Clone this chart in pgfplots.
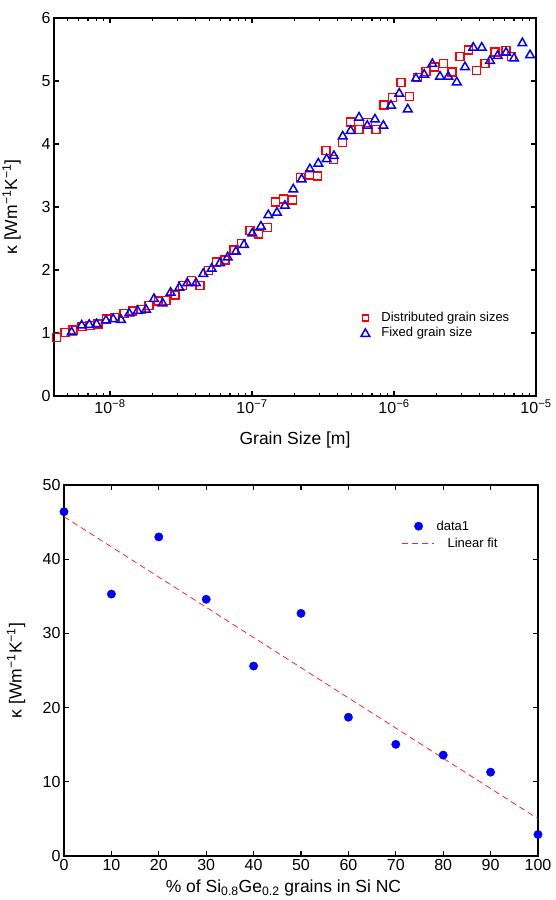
\documentclass[border=0pt]{standalone}
\usepackage{pgfplots}
\pgfplotsset{compat=1.18}
\usepackage{fontspec}
\setmainfont{Liberation Sans}
\pgfplotstableread{
L v
-8.375 0.93
-8.317 1.01
-8.261 1.05
-8.197 1.10
-8.141 1.12
-8.085 1.14
-8.023 1.22
-7.965 1.25
-7.901 1.31
-7.840 1.35
-7.782 1.37
-7.725 1.44
-7.660 1.51
-7.606 1.52
-7.542 1.60
-7.488 1.75
-7.425 1.83
-7.366 1.75
-7.308 1.99
-7.249 2.13
-7.190 2.16
-7.127 2.32
-7.073 2.42
-7.014 2.63
-6.956 2.57
-6.892 2.67
-6.833 3.08
-6.780 3.13
-6.716 3.11
-6.657 3.47
-6.596 3.51
-6.540 3.49
-6.479 3.90
-6.427 3.75
-6.364 4.02
-6.305 4.35
-6.246 4.23
-6.188 4.34
-6.127 4.23
-6.070 4.62
-6.009 4.74
-5.951 4.98
-5.892 4.75
-5.833 5.06
-5.775 5.15
-5.716 5.22
-5.653 5.28
-5.592 5.14
-5.535 5.39
-5.477 5.49
-5.418 5.17
-5.359 5.28
-5.289 5.46
-5.211 5.48
-5.171 5.39
}\distributed
\pgfplotstableread{
L v
-8.270 1.01
-8.199 1.12
-8.146 1.13
-8.094 1.14
-8.028 1.20
-7.977 1.22
-7.923 1.21
-7.864 1.31
-7.805 1.35
-7.746 1.37
-7.690 1.54
-7.629 1.47
-7.573 1.64
-7.512 1.72
-7.456 1.79
-7.394 1.79
-7.343 1.94
-7.284 2.02
-7.225 2.11
-7.171 2.20
-7.113 2.29
-7.056 2.40
-6.998 2.58
-6.937 2.69
-6.885 2.87
-6.824 2.91
-6.768 3.02
-6.709 3.28
-6.650 3.44
-6.592 3.60
-6.533 3.69
-6.474 3.76
-6.423 3.81
-6.361 4.12
-6.305 4.21
-6.246 4.42
-6.188 4.29
-6.134 4.39
-6.075 4.29
-6.021 4.61
-5.963 4.80
-5.903 4.55
-5.845 5.04
-5.787 5.10
-5.730 5.27
-5.676 5.07
-5.618 5.07
-5.558 4.98
-5.500 5.22
-5.442 5.53
-5.382 5.53
-5.324 5.32
-5.270 5.40
-5.211 5.45
-5.155 5.36
-5.096 5.60
-5.042 5.41
}\fixed
\pgfplotstableread{
p k
0 46.4
10 35.3
20 43.0
30 34.6
40 25.6
50 32.7
60 18.7
70 15.05
80 13.6
90 11.3
100 2.9
}\ncdata
\pgfplotsset{
  mstyle/.style={
    scale only axis,
    axis line style={line width=1.6pt},
    every tick/.style={black, line width=1.2pt},
    major tick length=5pt, minor tick length=3pt,
    tick align=inside,
    tick pos=both,
    /pgf/number format/assume math mode=true,
    tick label style={font=\fontsize{16}{16}\selectfont},
    label style={font=\fontsize{17.5}{18}\selectfont},
    clip=false,
  },
  sqlegend/.style={legend image code/.code={\path[draw=none,fill=none] (0pt,0pt) (22pt,0pt); \draw[##1, only marks, mark size=3pt, line width=1.5pt] plot coordinates {(8pt,0pt)};}},
  trilegend/.style={legend image code/.code={\path[draw=none,fill=none] (0pt,0pt) (22pt,0pt); \draw[##1, only marks, mark size=5pt, line width=1.6pt] plot coordinates {(8pt,-1pt)};}},
  dotlegend/.style={legend image code/.code={\path[draw=none,fill=none] (0pt,0pt) (33pt,0pt); \draw[##1, only marks] plot coordinates {(17pt,0pt)};}},
  linelegend/.style={legend image code/.code={\draw[##1] (0pt,0pt) -- (32pt,0pt);}},
}
\begin{document}
\begin{tikzpicture}[x=1pt,y=1pt]
\useasboundingbox (0,0) rectangle (556,900);
\begin{axis}[mstyle,
  at={(54pt,504pt)}, anchor=south west, width=482pt, height=378pt,
  xmin=-8.394, xmax=-5, ymin=0, ymax=6,
  xtick={-8,-7,-6,-5},
  xticklabels={10\textsuperscript{−8},10\textsuperscript{−7},10\textsuperscript{−6},10\textsuperscript{−5}},
  minor xtick={-8.3010,-8.2218,-8.1549,-8.0969,-8.0458,-7.6990,-7.5229,-7.3979,-7.3010,-7.2218,-7.1549,-7.0969,-7.0458,-6.6990,-6.5229,-6.3979,-6.3010,-6.2218,-6.1549,-6.0969,-6.0458,-5.6990,-5.5229,-5.3979,-5.3010,-5.2218,-5.1549,-5.0969,-5.0458},
  ytick={0,1,2,3,4,5,6},
  xlabel={Grain Size [m]},
  ylabel={κ [Wm\textsuperscript{−1}K\textsuperscript{−1}]},
  xlabel style={at={(axis description cs:0.5,-0.127)}, anchor=base},
  ylabel style={at={(axis description cs:-0.088,0.5)}, anchor=center},
  legend style={draw=none, fill=none, at={(axis description cs:0.629,0.232)}, anchor=north west,
    font=\fontsize{13}{15}\selectfont, row sep=0pt, inner xsep=0pt},
  legend cell align=left,
]
\addplot[only marks, red, mark=square, mark size=4pt, mark options={line width=1.4pt}, sqlegend] table[x=L,y=v] {\distributed};
\addlegendentry{Distributed grain sizes}
\addplot[only marks, blue, mark=triangle, mark size=5pt, mark options={line width=1.5pt}, trilegend] table[x=L,y=v] {\fixed};
\addlegendentry{Fixed grain size}
\end{axis}
\begin{axis}[mstyle,
  at={(64pt,44pt)}, anchor=south west, width=474pt, height=371pt,
  xmin=0, xmax=100, ymin=0, ymax=50,
  xtick={0,10,...,100}, ytick={0,10,...,50},
  xlabel={\% of Si\textsubscript{0.8}Ge\textsubscript{0.2} grains in Si NC},
  ylabel={κ [Wm\textsuperscript{−1}K\textsuperscript{−1}]},
  xlabel style={at={(axis description cs:0.463,-0.0997)}, anchor=base},
  ylabel style={at={(axis description cs:-0.101,0.5)}, anchor=center},
  legend style={draw=none, fill=none, at={(axis description cs:0.711,0.915)}, anchor=north west,
    font=\fontsize{13}{15}\selectfont, row sep=2pt, inner xsep=0pt},
  legend cell align=left,
]
\addplot[only marks, blue, mark=*, mark size=4.2pt, dotlegend] table[x=p,y=k] {\ncdata};
\addlegendentry{data1}
\addplot[red!85, dashed, line width=0.8pt, dash pattern=on 6pt off 4pt, linelegend] coordinates {(0,45.73) (100,5.03)};
\addlegendentry{\hspace{11pt}Linear fit}
\end{axis}
\end{tikzpicture}
\end{document}
